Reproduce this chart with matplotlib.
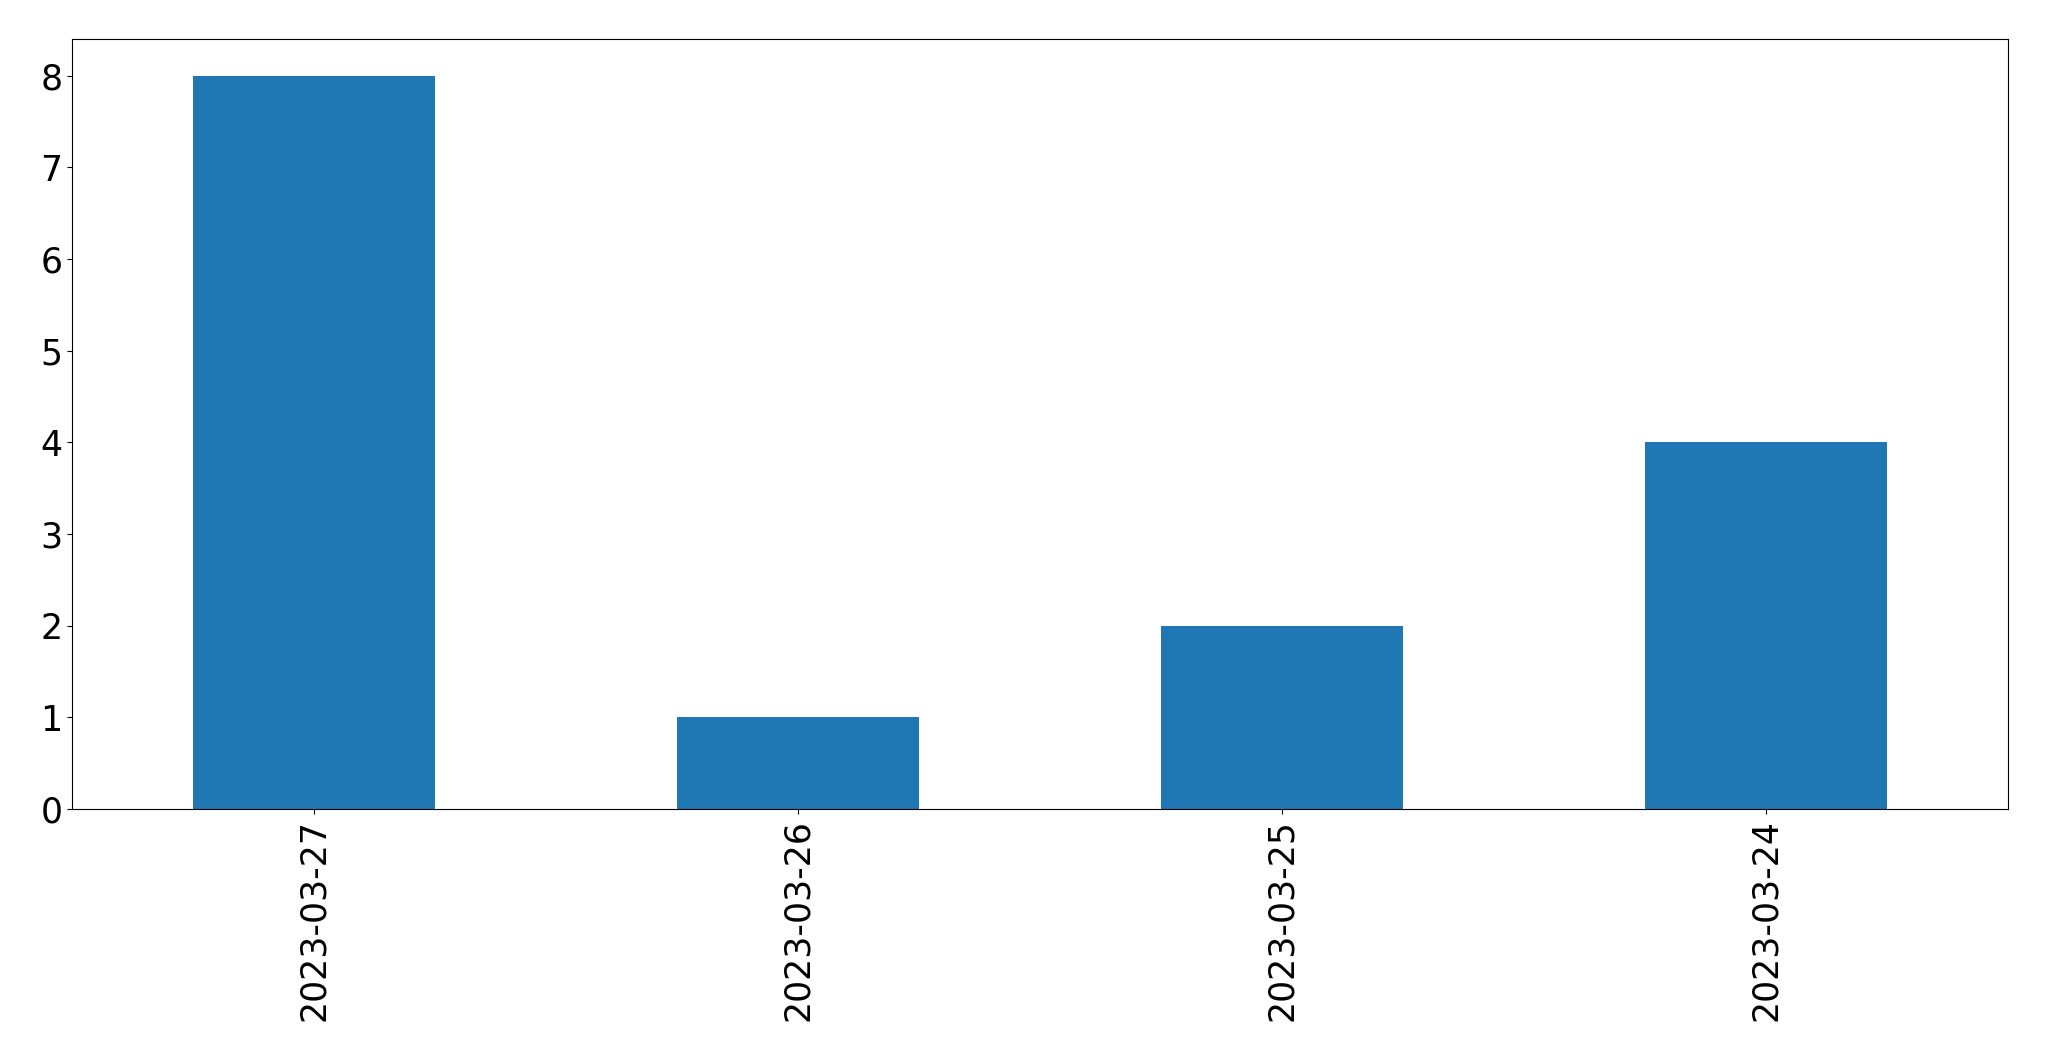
import matplotlib
matplotlib.use("Agg")
import matplotlib.pyplot as plt
import numpy as np

# counts per day
dates = ["2023-03-27", "2023-03-26", "2023-03-25", "2023-03-24"]
counts = [8, 1, 2, 4]

fig = plt.figure(figsize=(20.49, 10.61), dpi=100)
ax = fig.add_axes([72 / 2049, 1 - 809 / 1061, (2008 - 72) / 2049, (809 - 39) / 1061])

x = np.arange(len(dates))
ax.bar(x, counts, width=0.5, color="#1f77b4")
ax.set_xlim(-0.5, len(dates) - 0.5)
ax.set_xticks(x)
ax.set_xticklabels(dates, rotation=90)
ax.tick_params(labelsize=25)

fig.savefig("out.png", dpi=100)
